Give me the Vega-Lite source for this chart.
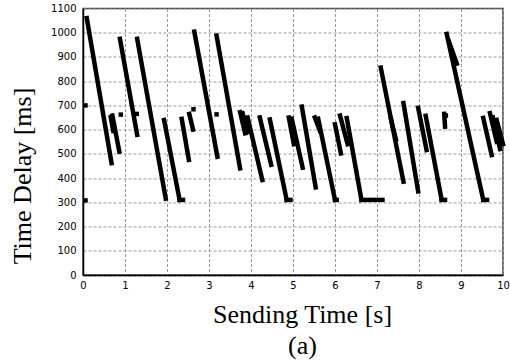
{
  "$schema": "https://vega.github.io/schema/vega-lite/v6.json",
  "width": 420,
  "height": 266.5,
  "autosize": "none",
  "padding": {"left": 83, "top": 8.5, "right": 7, "bottom": 88},
  "background": "white",
  "config": {
    "view": {"stroke": "#444", "strokeWidth": 1.5},
    "axis": {
      "grid": true,
      "gridColor": "#999",
      "gridDash": [3, 2],
      "gridWidth": 1,
      "ticks": false,
      "tickSize": 0,
      "domain": true,
      "domainColor": "#000",
      "domainWidth": 1.5,
      "labelFont": "DejaVu Sans",
      "labelFontSize": 10,
      "labelColor": "#000",
      "labelOverlap": false,
      "labelFlush": false,
      "format": "d",
      "titleFont": "Liberation Serif",
      "titleFontSize": 26,
      "titleFontWeight": "normal",
      "titleColor": "#000"
    }
  },
  "datasets": {
    "segments": [
      {"t1": 0.09, "d1": 1060, "t2": 0.68, "d2": 462},
      {"t1": 0.70, "d1": 658, "t2": 0.865, "d2": 509},
      {"t1": 0.66, "d1": 652, "t2": 0.72, "d2": 595},
      {"t1": 0.88, "d1": 975, "t2": 1.29, "d2": 578},
      {"t1": 1.29, "d1": 975, "t2": 1.97, "d2": 315},
      {"t1": 1.93, "d1": 640, "t2": 2.30, "d2": 310},
      {"t1": 2.30, "d1": 310, "t2": 2.38, "d2": 310},
      {"t1": 2.35, "d1": 645, "t2": 2.52, "d2": 475},
      {"t1": 2.53, "d1": 665, "t2": 2.62, "d2": 600},
      {"t1": 2.65, "d1": 1005, "t2": 3.20, "d2": 488},
      {"t1": 3.18, "d1": 988, "t2": 3.74, "d2": 440},
      {"t1": 3.74, "d1": 672, "t2": 3.86, "d2": 585},
      {"t1": 3.80, "d1": 668, "t2": 3.92, "d2": 590},
      {"t1": 3.92, "d1": 650, "t2": 4.27, "d2": 392},
      {"t1": 4.21, "d1": 650, "t2": 4.48, "d2": 455},
      {"t1": 4.45, "d1": 642, "t2": 4.85, "d2": 310},
      {"t1": 4.85, "d1": 310, "t2": 4.94, "d2": 310},
      {"t1": 4.90, "d1": 650, "t2": 5.02, "d2": 540},
      {"t1": 4.97, "d1": 645, "t2": 5.23, "d2": 443},
      {"t1": 5.21, "d1": 695, "t2": 5.54, "d2": 362},
      {"t1": 5.52, "d1": 650, "t2": 5.64, "d2": 595},
      {"t1": 5.60, "d1": 645, "t2": 6.00, "d2": 310},
      {"t1": 6.00, "d1": 310, "t2": 6.04, "d2": 310},
      {"t1": 6.00, "d1": 622, "t2": 6.14, "d2": 502},
      {"t1": 6.12, "d1": 658, "t2": 6.30, "d2": 540},
      {"t1": 6.28, "d1": 648, "t2": 6.63, "d2": 310},
      {"t1": 6.63, "d1": 310, "t2": 7.13, "d2": 310},
      {"t1": 7.09, "d1": 856, "t2": 7.63, "d2": 385},
      {"t1": 7.33, "d1": 645, "t2": 7.45, "d2": 560},
      {"t1": 7.63, "d1": 710, "t2": 7.98, "d2": 345},
      {"t1": 7.98, "d1": 690, "t2": 8.18, "d2": 516},
      {"t1": 8.16, "d1": 657, "t2": 8.54, "d2": 310},
      {"t1": 8.54, "d1": 310, "t2": 8.62, "d2": 310},
      {"t1": 8.60, "d1": 665, "t2": 8.62, "d2": 612},
      {"t1": 8.66, "d1": 995, "t2": 9.53, "d2": 310},
      {"t1": 8.71, "d1": 965, "t2": 8.90, "d2": 872},
      {"t1": 9.53, "d1": 310, "t2": 9.62, "d2": 310},
      {"t1": 9.53, "d1": 648, "t2": 9.73, "d2": 495},
      {"t1": 9.69, "d1": 668, "t2": 9.85, "d2": 550},
      {"t1": 9.76, "d1": 650, "t2": 9.93, "d2": 520},
      {"t1": 9.85, "d1": 640, "t2": 10.0, "d2": 540}
    ],
    "points": [
      {"t": 0.06, "d": 700},
      {"t": 0.06, "d": 308},
      {"t": 0.90, "d": 662},
      {"t": 1.28, "d": 665},
      {"t": 2.63, "d": 684},
      {"t": 3.18, "d": 663},
      {"t": 8.64, "d": 658}
    ]
  },
  "layer": [
    {
      "data": {"name": "segments"},
      "mark": {"type": "rule", "strokeWidth": 4.5, "strokeCap": "square", "color": "#000"},
      "encoding": {
        "x": {
          "field": "t1", "type": "quantitative",
          "scale": {"domain": [0, 10], "nice": false, "zero": false},
          "axis": {
            "values": [0, 1, 2, 3, 4, 5, 6, 7, 8, 9, 10],
            "labelPadding": 5,
            "title": ["Sending Time [s]", "(a)"],
            "titleX": 219,
            "titleY": 26,
            "titleBaseline": "top",
            "titleLineHeight": 31
          }
        },
        "x2": {"field": "t2"},
        "y": {
          "field": "d1", "type": "quantitative",
          "scale": {"domain": [0, 1100], "nice": false},
          "axis": {
            "values": [0, 100, 200, 300, 400, 500, 600, 700, 800, 900, 1000, 1100],
            "labelPadding": 7,
            "title": "Time Delay [ms]",
            "titleX": -52.5,
            "titleY": 167,
            "titleBaseline": "alphabetic"
          }
        },
        "y2": {"field": "d2"}
      }
    },
    {
      "data": {"name": "points"},
      "mark": {"type": "square", "size": 20, "color": "#000", "opacity": 1, "filled": true},
      "encoding": {
        "x": {
          "field": "t", "type": "quantitative",
          "scale": {"domain": [0, 10], "nice": false, "zero": false},
          "axis": {
            "values": [0, 1, 2, 3, 4, 5, 6, 7, 8, 9, 10],
            "labelPadding": 5,
            "title": ["Sending Time [s]", "(a)"],
            "titleX": 219,
            "titleY": 26,
            "titleBaseline": "top",
            "titleLineHeight": 31
          }
        },
        "y": {
          "field": "d", "type": "quantitative",
          "scale": {"domain": [0, 1100], "nice": false},
          "axis": {
            "values": [0, 100, 200, 300, 400, 500, 600, 700, 800, 900, 1000, 1100],
            "labelPadding": 7,
            "title": "Time Delay [ms]",
            "titleX": -52.5,
            "titleY": 167,
            "titleBaseline": "alphabetic"
          }
        }
      }
    }
  ]
}
